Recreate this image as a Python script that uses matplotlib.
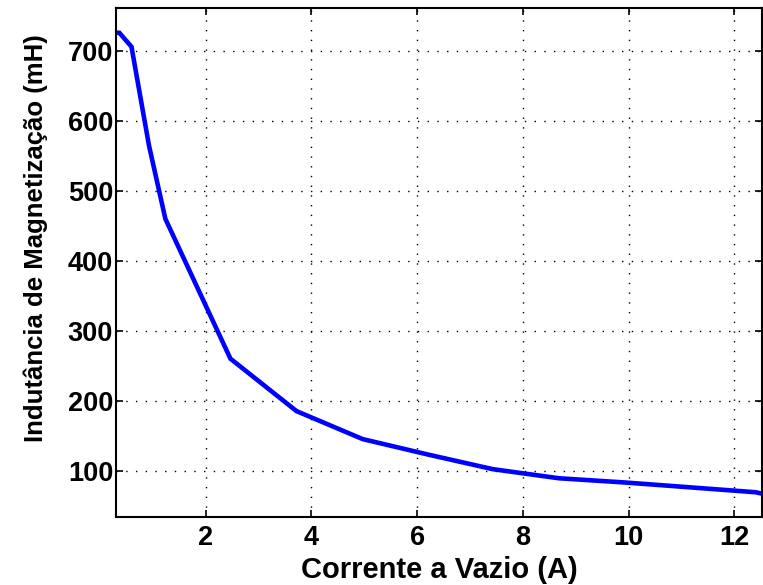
import matplotlib
matplotlib.use("Agg")
import matplotlib.pyplot as plt

# corrente a vazio (A) x indutancia de magnetizacao (mH)
corrente = [0.31, 0.37, 0.60, 0.93, 1.24, 2.47, 3.72, 4.97, 6.20, 7.43,
            8.68, 9.92, 11.16, 12.40, 12.52]
indutancia = [726, 726, 706, 565, 460, 260, 185, 145, 123, 102,
              89, 83, 76, 69, 67]

xticks = [2, 4, 6, 8, 10, 12]
yticks = [100, 200, 300, 400, 500, 600, 700]

plt.rcParams['font.family'] = ['Liberation Sans', 'DejaVu Sans']
plt.rcParams['font.weight'] = 'bold'

fig = plt.figure(figsize=(7.63, 5.85), dpi=100)
ax = fig.add_axes([116/763, 1-517/585, 646/763, (517-8.3)/585])

ax.plot(corrente, indutancia, color=(0, 0, 1), lw=3.3, solid_joinstyle='miter')

ax.set_xlim(0.307, 12.52)
ax.set_ylim(33.6, 761)
ax.set_xticks(xticks)
ax.set_yticks(yticks)
ax.tick_params(direction='in', length=5, width=1.2, top=True, right=True,
               labelsize=19.5)
ax.tick_params(axis='y', pad=2)
ax.tick_params(axis='x', pad=6)
for lab in ax.get_xticklabels() + ax.get_yticklabels():
    lab.set_fontweight('bold')

ax.grid(True, color='black', linestyle=(0, (1, 6)), lw=1.0)
for s in ax.spines.values():
    s.set_linewidth(1.5)

ax.set_xlabel('Corrente a Vazio (A)', fontsize=21, fontweight='bold', labelpad=3)
ax.set_ylabel('Indutância de Magnetização (mH)', fontsize=18.5, fontweight='bold')
ax.yaxis.set_label_coords(-0.105, 0.548)

fig.savefig('out.png', dpi=100)
